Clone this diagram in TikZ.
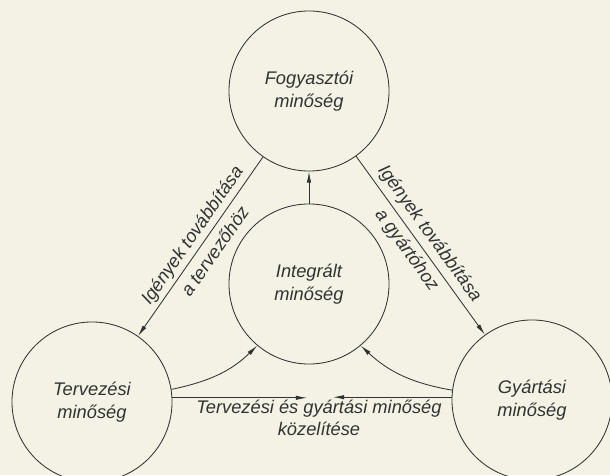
\documentclass[tikz,border=0pt]{standalone}
\usepackage{fontspec}
\setmainfont{Liberation Sans}
\usetikzlibrary{arrows.meta, positioning}
\definecolor{papir}{RGB}{244,242,228}
\definecolor{tinta}{RGB}{50,50,50}

\begin{document}
\begin{tikzpicture}[x=0.025cm, y=0.025cm,
          kor/.style={circle, draw=tinta, line width=0.6pt, minimum size=4cm,
            align=center, text=tinta, font=\itshape\fontsize{13}{16.5}\selectfont},
          felirat/.style={align=center, text=tinta, font=\itshape\fontsize{13}{20}\selectfont},
          nyil/.style={-{Latex[length=2.8mm, width=1.1mm]}, draw=tinta, line width=0.6pt}]

          % Paper
          \fill[papir] (0,0) rectangle (610,475);
          \useasboundingbox (0,0) rectangle (610,475);

          % Nodes
          \node[kor] (fogy) at (309,384) {Fogyasztói\\minőség};
          \node[kor] (integ) at (309,191) {Integrált\\minőség};
          \node[kor] (terv) at (92,73) {Tervezési\\minőség};
          \node[kor] (gyart) at (532,75) {Gyártási\\minőség};
          \coordinate (kozelL) at (307,0);
          \coordinate (kozelR) at (333,0);
          \node[felirat, font=\itshape\fontsize{13}{16}\selectfont] (kozel) at (319,57)
            {Tervezési és gyártási minőség\\közelítése};

          % Requirements
          \draw[nyil] (fogy) -- node[felirat, sloped, pos=0.48] {Igények továbbítása\\a tervezőhöz} (terv);
          \draw[nyil] (fogy) -- node[felirat, sloped, pos=0.48] {Igények továbbítása\\a gyártóhoz} (gyart);
          \draw[nyil] (integ) -- (fogy);

          % Approach
          \draw[nyil] (terv.9) to[out=12, in=224] (integ.230);
          \draw[nyil] (gyart.173) to[out=170, in=317] (integ.310);
          \draw[nyil] (terv.3.5) -- (terv.3.5 -| kozelL);
          \draw[nyil] (gyart.178) -- (gyart.178 -| kozelR);
        \end{tikzpicture}
\end{document}
